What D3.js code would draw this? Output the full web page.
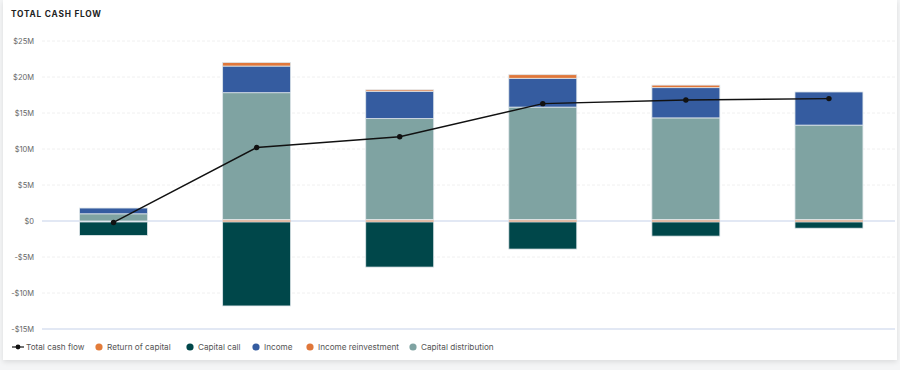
<!DOCTYPE html>
<html>
<head>
<meta charset="utf-8">
<script src="https://cdn.jsdelivr.net/npm/d3@7"></script>
<style>
    body { margin: 0; background: #f4f5f6; font-family: Inter, "Noto Sans", sans-serif; }
    #card { position: absolute; left: 3px; top: 0; width: 894px; height: 360px; background: #fff;
        box-shadow: 0 2px 5px rgba(0,0,0,0.10); }
    #my_chart { position: absolute; left: 0; top: 0; }
</style>
</head>
<body>
<div id="card"></div>
<div id="my_chart"></div>
<script>
// values in $M
const periods = ["P1", "P2", "P3", "P4", "P5", "P6"]
const returnOfCapital = [0, 0.22, 0.22, 0.22, 0.22, 0.22]
const capitalDistribution = [1.0, 17.6, 14.0, 15.6, 14.1, 13.1]
const income = [0.8, 3.7, 3.8, 4.0, 4.2, 4.6]
const incomeReinvestment = [0, 0.5, 0.2, 0.5, 0.35, 0]
const capitalCall = [-2.0, -11.8, -6.4, -3.9, -2.1, -1.0]
const totalCashFlow = [-0.2, 10.2, 11.7, 16.3, 16.8, 17.0]
const yTicks = [-15, -10, -5, 0, 5, 10, 15, 20, 25]

const colors = {
    returnOfCapital: "#e37c3a",
    capitalCall: "#00474a",
    income: "#355ca0",
    incomeReinvestment: "#e0773a",
    capitalDistribution: "#7fa3a2",
}

const width = 900, height = 370
const margin = {top: 41, right: 5, bottom: 41, left: 42}

const svg = d3.select("#my_chart")
    .append("svg")
    .attr("width", width)
    .attr("height", height)

svg.append("text")
    .attr("x", 11)
    .attr("y", 17)
    .attr("font-size", 8.3)
    .attr("font-weight", 700)
    .attr("letter-spacing", 0.8)
    .attr("fill", "#222")
    .text("TOTAL CASH FLOW")

const x = d3.scaleBand()
    .domain(periods)
    .range([margin.left, 900.5])
    .paddingInner(0.525)
    .paddingOuter(0.2625)

const y = d3.scaleLinear()
    .domain([-15, 25])
    .range([329, 41])

// grid
svg.append("g")
    .selectAll("line")
    .data(yTicks.filter(t => t !== 0 && t !== -15))
    .enter()
    .append("line")
    .attr("x1", margin.left)
    .attr("x2", 895)
    .attr("y1", t => y(t))
    .attr("y2", t => y(t))
    .attr("stroke", "#ececec")
    .attr("stroke-dasharray", "3,2")
    .attr("stroke-width", 0.8)

svg.append("g")
    .selectAll("line")
    .data([0, -15])
    .enter()
    .append("line")
    .attr("x1", margin.left)
    .attr("x2", 895)
    .attr("y1", t => y(t))
    .attr("y2", t => y(t))
    .attr("stroke", "#d9e0f0")
    .attr("stroke-width", 1.5)

const yAxis = svg.append("g")
    .attr("transform", `translate(${margin.left},0)`)
    .call(d3.axisLeft(y).tickValues(yTicks).tickSize(0).tickPadding(8)
        .tickFormat(t => t < 0 ? `-$${-t}M` : t === 0 ? "$0" : `$${t}M`))
yAxis.select(".domain").remove()
yAxis.selectAll("text")
    .attr("font-family", "Inter, sans-serif")
    .attr("font-size", 7.5)
    .attr("fill", "#666")

// stacked positive series
const positiveKeys = ["returnOfCapital", "capitalDistribution", "income", "incomeReinvestment"]
const rows = periods.map((p, i) => ({
    period: p,
    returnOfCapital: returnOfCapital[i],
    capitalDistribution: capitalDistribution[i],
    income: income[i],
    incomeReinvestment: incomeReinvestment[i],
}))
const stack = d3.stack().keys(positiveKeys)(rows)

svg.append("g")
    .selectAll("rect")
    .data(periods.map((p, i) => ({period: p, value: capitalCall[i]})))
    .enter()
    .append("rect")
    .attr("x", d => x(d.period))
    .attr("width", x.bandwidth())
    .attr("y", y(0) + 1)
    .attr("height", d => y(d.value) - y(0) - 1)
    .attr("fill", colors.capitalCall)
    .attr("stroke", "#dfe6ea")
    .attr("stroke-width", 0.8)

stack.forEach(series => {
    svg.append("g")
        .selectAll("rect")
        .data(series.filter(d => d[1] - d[0] > 0))
        .enter()
        .append("rect")
        .attr("x", d => x(d.data.period))
        .attr("width", x.bandwidth())
        .attr("y", d => y(d[1]))
        .attr("height", d => y(d[0]) - y(d[1]) + (series.key === "returnOfCapital" ? 1 : 0))
        .attr("fill", colors[series.key])
        .attr("stroke", series.key === "returnOfCapital" ? "none" : "#dfe6ea")
        .attr("stroke-width", 0.8)
        .attr("opacity", series.key === "returnOfCapital" ? 0.4 : 1)
})

// total cash flow line
const line = d3.line()
    .x((d, i) => x(periods[i]) + x.bandwidth() / 2)
    .y(d => y(d))

svg.append("path")
    .datum(totalCashFlow)
    .attr("d", line)
    .attr("fill", "none")
    .attr("stroke", "#111")
    .attr("stroke-width", 1.4)

svg.append("g")
    .selectAll("circle")
    .data(totalCashFlow)
    .enter()
    .append("circle")
    .attr("cx", (d, i) => x(periods[i]) + x.bandwidth() / 2)
    .attr("cy", d => y(d))
    .attr("r", 2.7)
    .attr("fill", "#111")

// legend
const legendItems = [
    {label: "Total cash flow", type: "line", x: 12},
    {label: "Return of capital", color: colors.returnOfCapital, x: 99},
    {label: "Capital call", color: colors.capitalCall, x: 190},
    {label: "Income", color: colors.income, x: 256},
    {label: "Income reinvestment", color: colors.incomeReinvestment, x: 310},
    {label: "Capital distribution", color: colors.capitalDistribution, x: 413},
]
const legendY = 347
const legend = svg.append("g")
    .selectAll("g")
    .data(legendItems)
    .enter()
    .append("g")
    .attr("transform", d => `translate(${d.x},${legendY})`)

legend.filter(d => d.type === "line")
    .append("line")
    .attr("x1", 0).attr("x2", 12)
    .attr("stroke", "#111").attr("stroke-width", 1.2)
legend.filter(d => d.type === "line")
    .append("circle")
    .attr("cx", 6).attr("r", 2.4).attr("fill", "#111")
legend.filter(d => d.type !== "line")
    .append("circle")
    .attr("cx", 0).attr("r", 3.6).attr("fill", d => d.color)

legend.append("text")
    .attr("x", d => d.type === "line" ? 14 : 8)
    .attr("dy", "0.35em")
    .attr("font-size", 8.2)
    .attr("fill", "#555")
    .text(d => d.label)
</script>
</body>
</html>
